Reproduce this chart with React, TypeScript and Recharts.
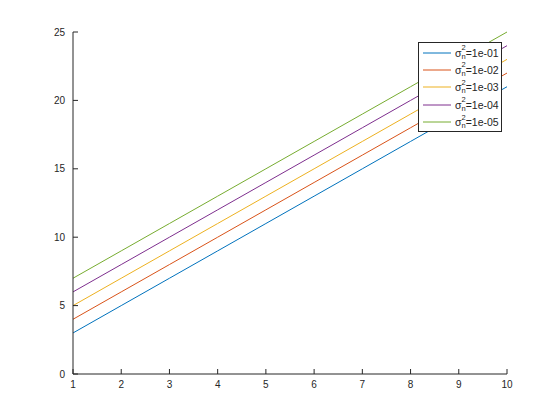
import { LineChart, Line, XAxis, YAxis } from "recharts";

const xValues = [1, 2, 3, 4, 5, 6, 7, 8, 9, 10];
const series1 = [3, 5, 7, 9, 11, 13, 15, 17, 19, 21];
const series2 = [4, 6, 8, 10, 12, 14, 16, 18, 20, 22];
const series3 = [5, 7, 9, 11, 13, 15, 17, 19, 21, 23];
const series4 = [6, 8, 10, 12, 14, 16, 18, 20, 22, 24];
const series5 = [7, 9, 11, 13, 15, 17, 19, 21, 23, 25];
const seriesNames = ["1e-01", "1e-02", "1e-03", "1e-04", "1e-05"];
const colors = ["#0072BD", "#D95319", "#EDB120", "#7E2F8E", "#77AC30"];
const xTicks = [1, 2, 3, 4, 5, 6, 7, 8, 9, 10];
const yTicks = [0, 5, 10, 15, 20, 25];

const allSeries = [series1, series2, series3, series4, series5];
const data = xValues.map((x, i) => {
  const row: Record<string, number> = { x };
  allSeries.forEach((s, k) => (row["s" + k] = s[i]));
  return row;
});

const textColor = "#262626";
const font = "'Liberation Sans', Arial, sans-serif";

function LegendBox() {
  return (
    <div
      style={{
        position: "absolute",
        left: 418,
        top: 42,
        border: `1px solid ${textColor}`,
        background: "#fff",
        width: 84,
        height: 90,
        padding: "1px 0 0 0",
        fontFamily: font,
        fontSize: 10.5,
        color: textColor,
        boxSizing: "border-box",
      }}
    >
      {seriesNames.map((name, i) => (
        <div key={name} style={{ display: "flex", alignItems: "center", height: 17.4 }}>
          <svg width={30} height={10} style={{ marginLeft: 4 }}>
            <line x1={0} y1={5} x2={28} y2={5} stroke={colors[i]} strokeWidth={1} />
          </svg>
          <span style={{ marginLeft: 2 }}>σ</span>
          <span
            style={{
              display: "inline-flex",
              flexDirection: "column",
              fontSize: 7.5,
              lineHeight: "8.7px",
            }}
          >
            <span style={{ display: "block", height: 8.7 }}>2</span>
            <span style={{ display: "block", height: 8.7 }}>n</span>
          </span>
          <span>={name}</span>
        </div>
      ))}
    </div>
  );
}

export default function App() {
  return (
    <div style={{ position: "absolute", left: 0, top: 0, width: 560, height: 420, background: "#fff" }}>
      <LineChart
        width={560}
        height={420}
        data={data}
        margin={{ top: 32, right: 53, left: 33, bottom: 16 }}
      >
        <XAxis
          dataKey="x"
          type="number"
          domain={[1, 10]}
          ticks={xTicks}
          height={30}
          stroke={textColor}
          tickSize={-5}
          tickMargin={12}
          tick={{ fill: textColor, fontSize: 10, fontFamily: font }}
        />
        <YAxis
          type="number"
          domain={[0, 25]}
          ticks={yTicks}
          width={40}
          stroke={textColor}
          tickSize={-5}
          tickMargin={13}
          tick={{ fill: textColor, fontSize: 10, fontFamily: font }}
        />
        {seriesNames.map((name, i) => (
          <Line
            key={name}
            dataKey={"s" + i}
            stroke={colors[i]}
            strokeWidth={1}
            dot={false}
            type="linear"
            isAnimationActive={false}
          />
        ))}
      </LineChart>
      <LegendBox />
    </div>
  );
}
